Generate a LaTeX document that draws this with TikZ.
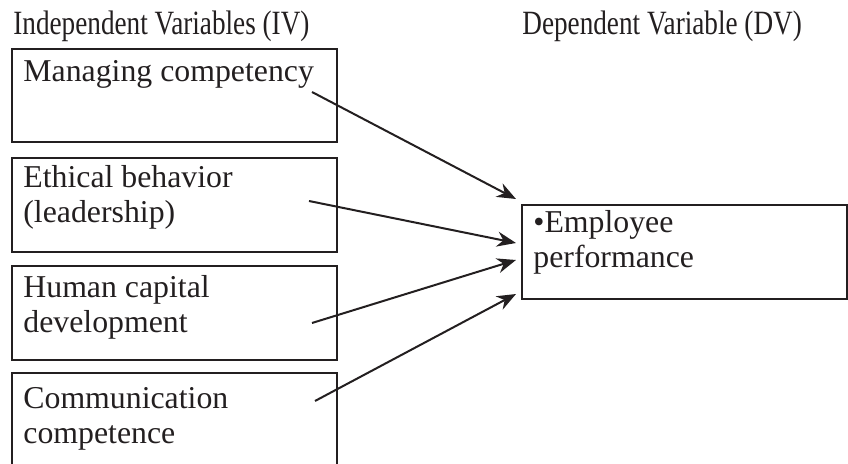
\documentclass[tikz,border=0pt]{standalone}
\usepackage{fontspec}
\setmainfont{Liberation Serif}
\newfontfamily\headfont[FakeStretch=0.8]{Liberation Serif}
\usetikzlibrary{arrows.meta}
\definecolor{tinta}{HTML}{231F20}
\tikzset{
  caja/.style={draw=tinta, line width=1pt, anchor=north west, inner sep=0pt},
  texto/.style={anchor=base west, inner sep=0pt, align=left, text=tinta,
    font=\fontsize{15.9}{17.5}\selectfont},
  titulo/.style={anchor=base west, inner sep=0pt, text=tinta,
    font=\headfont\fontsize{17}{20}\selectfont},
  flecha/.style={draw=tinta, line width=1pt, -{Stealth[length=9.5pt,width=7.5pt]}}
}
\begin{document}
\begin{tikzpicture}[x=0.5pt,y=-0.5pt]
  \useasboundingbox (0,0) rectangle (848,464);

  % Titulos
  \node[titulo] (iv) at (13,35) {Independent Variables (IV)};
  \node[titulo] (dv) at (522,35) {Dependent Variable (DV)};

  % Cajas de las variables independientes
  \foreach \nombre/\y/\h in {mc/48/93, eb/157/94, hc/265/94, cc/372/120} {
    \node[caja, minimum width=162.5pt, minimum height=\h*0.5pt] (\nombre) at (11,\y) {};
  }

  % Textos de las cajas (base de la ultima linea)
  \node[texto] (mct) at (23,82) {Managing competency};
  \node[texto] (ebt) at (23,223) {Ethical behavior\\(leadership)};
  \node[texto] (hct) at (23,333) {Human capital\\development};
  \node[texto] (cct) at (23,444) {Communication\\competence};

  % Variable dependiente
  \node[caja, minimum width=162.5pt, minimum height=47pt] (ep) at (521,204) {};
  \node[texto] (ept) at (533,268) {\textbullet Employee\\performance};

  % Flechas
  \foreach \i/\sx/\sy/\ey in {1/312/92/199, 2/309/201/243, 3/312/323/260, 4/315/401/294} {
    \coordinate (s\i) at (\sx,\sy);
    \coordinate (e\i) at (516,\ey);
    \draw[flecha] (s\i) -- (e\i);
  }

\end{tikzpicture}
\end{document}
